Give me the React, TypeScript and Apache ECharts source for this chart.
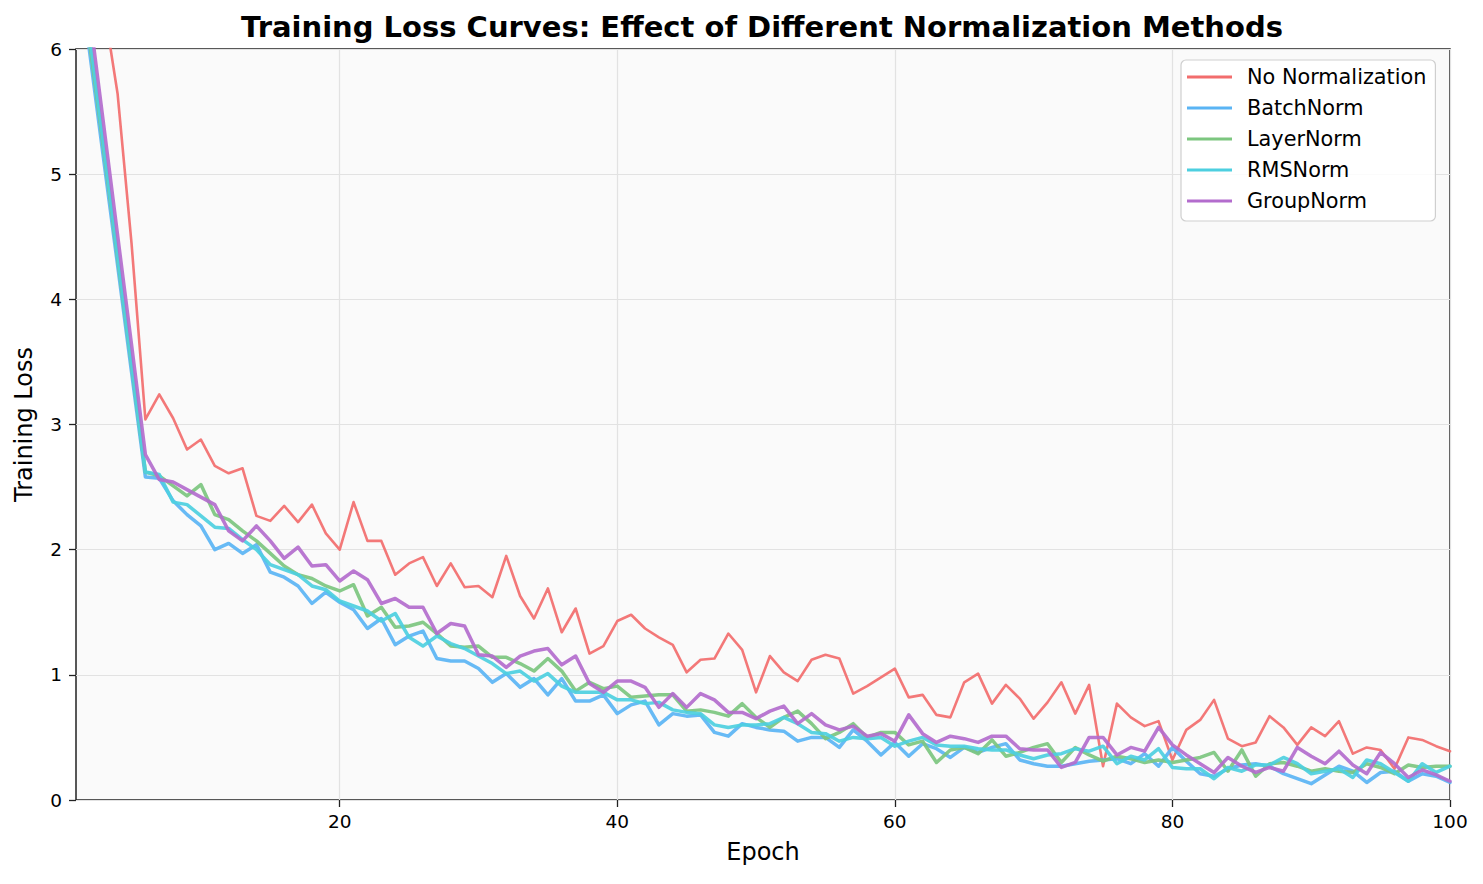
import React, { useEffect, useRef } from "react";
import * as echarts from "echarts";

const epochs: string[] = Array.from({ length: 100 }, (_, i) => String(i + 1));
const xTickLabels = ["20", "40", "60", "80", "100"];
const yTicks = { min: 0, max: 6, step: 1 };

const seriesNames = ["No Normalization", "BatchNorm", "LayerNorm", "RMSNorm", "GroupNorm"];
const seriesColors = ["#F26D6D", "#5AB4F4", "#7CC67F", "#4DCFE0", "#B36CCD"];
const seriesWidths = [2.6, 3.5, 3.5, 3.5, 3.5];

const noNorm = [
  7.6, 6.95, 6.35, 5.64, 4.45, 3.04, 3.24, 3.05, 2.8, 2.88, 2.67, 2.61, 2.65, 2.27, 2.23, 2.35, 2.22, 2.36, 2.13, 2.0,
  2.38, 2.07, 2.07, 1.8, 1.89, 1.94, 1.71, 1.89, 1.7, 1.71, 1.62, 1.95, 1.63, 1.45, 1.69, 1.34, 1.53, 1.17, 1.23, 1.43,
  1.48, 1.37, 1.3, 1.24, 1.02, 1.12, 1.13, 1.33, 1.2, 0.86, 1.15, 1.02, 0.95, 1.12, 1.16, 1.13, 0.85, 0.91, 0.98, 1.05,
  0.82, 0.84, 0.68, 0.66, 0.94, 1.01, 0.77, 0.92, 0.81, 0.65, 0.78, 0.94, 0.69, 0.92, 0.27, 0.77, 0.66, 0.59, 0.63, 0.32,
  0.56, 0.64, 0.8, 0.49, 0.43, 0.46, 0.67, 0.58, 0.44, 0.58, 0.51, 0.63, 0.37, 0.42, 0.4, 0.25, 0.5, 0.48, 0.43, 0.39,
];
const batchNorm = [
  6.8, 5.96, 5.11, 4.27, 3.42, 2.58, 2.57, 2.39, 2.28, 2.19, 2.0, 2.05, 1.97, 2.04, 1.82, 1.78, 1.71, 1.57, 1.66, 1.58,
  1.52, 1.37, 1.45, 1.24, 1.31, 1.35, 1.13, 1.11, 1.11, 1.05, 0.94, 1.01, 0.9, 0.97, 0.84, 0.97, 0.79, 0.79, 0.84, 0.69,
  0.76, 0.79, 0.6, 0.69, 0.67, 0.68, 0.54, 0.51, 0.61, 0.58, 0.56, 0.55, 0.47, 0.5, 0.5, 0.42, 0.56, 0.47, 0.36, 0.46,
  0.35, 0.45, 0.41, 0.34, 0.42, 0.38, 0.42, 0.45, 0.32, 0.29, 0.27, 0.27, 0.29, 0.31, 0.32, 0.33, 0.29, 0.37, 0.27, 0.42,
  0.31, 0.21, 0.19, 0.25, 0.28, 0.29, 0.27, 0.21, 0.17, 0.13, 0.2, 0.27, 0.23, 0.14, 0.22, 0.23, 0.15, 0.21, 0.19, 0.14,
];
const layerNorm = [
  6.9, 6.04, 5.19, 4.33, 3.48, 2.62, 2.59, 2.51, 2.43, 2.52, 2.28, 2.24, 2.15, 2.07, 1.97, 1.87, 1.8, 1.77, 1.71, 1.67,
  1.72, 1.47, 1.54, 1.38, 1.39, 1.42, 1.33, 1.23, 1.22, 1.23, 1.14, 1.14, 1.09, 1.03, 1.13, 1.03, 0.87, 0.94, 0.89, 0.91,
  0.82, 0.83, 0.84, 0.84, 0.71, 0.72, 0.7, 0.67, 0.77, 0.66, 0.58, 0.66, 0.71, 0.61, 0.49, 0.54, 0.61, 0.5, 0.54, 0.54,
  0.44, 0.47, 0.3, 0.4, 0.42, 0.37, 0.48, 0.35, 0.38, 0.42, 0.45, 0.3, 0.42, 0.36, 0.31, 0.35, 0.33, 0.3, 0.32, 0.3,
  0.32, 0.34, 0.38, 0.23, 0.4, 0.19, 0.29, 0.3, 0.27, 0.23, 0.25, 0.23, 0.22, 0.29, 0.26, 0.21, 0.28, 0.26, 0.27, 0.27,
];
const rmsNorm = [
  6.95, 6.09, 5.22, 4.35, 3.49, 2.62, 2.6, 2.38, 2.36, 2.27, 2.18, 2.17, 2.08, 2.0, 1.88, 1.84, 1.8, 1.71, 1.68, 1.59,
  1.55, 1.51, 1.43, 1.49, 1.3, 1.23, 1.31, 1.25, 1.21, 1.15, 1.09, 1.01, 1.03, 0.95, 1.01, 0.91, 0.86, 0.86, 0.86, 0.8,
  0.8, 0.77, 0.78, 0.72, 0.7, 0.69, 0.6, 0.58, 0.6, 0.6, 0.61, 0.66, 0.61, 0.54, 0.53, 0.47, 0.5, 0.49, 0.5, 0.43,
  0.47, 0.5, 0.44, 0.43, 0.43, 0.41, 0.4, 0.4, 0.36, 0.33, 0.36, 0.37, 0.41, 0.39, 0.43, 0.29, 0.35, 0.32, 0.41, 0.26,
  0.25, 0.25, 0.17, 0.26, 0.23, 0.28, 0.28, 0.34, 0.29, 0.21, 0.23, 0.25, 0.18, 0.32, 0.29, 0.22, 0.15, 0.29, 0.22, 0.27,
];
const groupNorm = [
  7.1, 6.26, 5.39, 4.51, 3.64, 2.76, 2.56, 2.54, 2.48, 2.42, 2.36, 2.15, 2.07, 2.19, 2.07, 1.93, 2.02, 1.87, 1.88, 1.75,
  1.83, 1.76, 1.57, 1.61, 1.54, 1.54, 1.33, 1.41, 1.39, 1.16, 1.15, 1.06, 1.15, 1.19, 1.21, 1.08, 1.15, 0.93, 0.86, 0.95,
  0.95, 0.9, 0.74, 0.85, 0.74, 0.85, 0.8, 0.7, 0.7, 0.65, 0.71, 0.75, 0.61, 0.69, 0.6, 0.56, 0.59, 0.51, 0.53, 0.47,
  0.68, 0.53, 0.46, 0.51, 0.49, 0.46, 0.51, 0.51, 0.41, 0.4, 0.4, 0.26, 0.3, 0.5, 0.5, 0.36, 0.42, 0.39, 0.58, 0.44,
  0.36, 0.29, 0.22, 0.34, 0.27, 0.22, 0.26, 0.23, 0.42, 0.35, 0.29, 0.39, 0.28, 0.21, 0.38, 0.29, 0.18, 0.24, 0.2, 0.15,
];
const seriesData = [noNorm, batchNorm, layerNorm, rmsNorm, groupNorm];

const FONT = "DejaVu Sans";

export default function App() {
  const ref = useRef<HTMLDivElement>(null);
  useEffect(() => {
    document.body.style.margin = "0";
    if (!ref.current) return;
    const chart = echarts.init(ref.current, undefined, { renderer: "svg" });
    const showTick = (_i: number, v: string) => xTickLabels.includes(String(v));
    chart.setOption({
      animation: false,
      backgroundColor: "#ffffff",
      graphic: [
        {
          type: "text",
          x: 762,
          y: 27,
          style: {
            text: "Training Loss Curves: Effect of Different Normalization Methods",
            font: `bold 29px "${FONT}"`,
            fill: "#000",
            textAlign: "center",
            textVerticalAlign: "middle",
          },
        },
      ],
      grid: {
        left: 76,
        right: 33,
        top: 49,
        bottom: 84,
        show: true,
        backgroundColor: "#fafafa",
        borderColor: "#222222",
        borderWidth: 1.5,
        containLabel: false,
      },
      legend: {
        orient: "vertical",
        left: 1181,
        top: 60,
        padding: [6, 9, 9, 6],
        itemWidth: 45,
        itemHeight: 3,
        itemGap: 9,
        icon: "rect",
        backgroundColor: "rgba(255,255,255,0.85)",
        borderColor: "#cfcfcf",
        borderWidth: 1.2,
        borderRadius: 5,
        textStyle: { fontFamily: FONT, fontSize: 20.8, color: "#000", lineHeight: 22, padding: [0, 0, 0, 10] },
        data: seriesNames,
      },
      xAxis: {
        type: "category",
        data: epochs,
        boundaryGap: false,
        name: "Epoch",
        nameLocation: "middle",
        nameGap: 40,
        nameTextStyle: { fontFamily: FONT, fontSize: 24, color: "#000" },
        axisLine: { show: false },
        axisTick: { show: true, interval: showTick, length: 7, lineStyle: { color: "#222", width: 1.3 } },
        axisLabel: { interval: showTick, margin: 12, fontFamily: FONT, fontSize: 18.5, color: "#000" },
        splitLine: { show: true, interval: showTick, lineStyle: { color: "#e2e2e2", width: 1.2 } },
      },
      yAxis: {
        type: "value",
        min: yTicks.min,
        max: yTicks.max,
        interval: yTicks.step,
        name: "Training Loss",
        nameLocation: "middle",
        nameGap: 40,
        nameTextStyle: { fontFamily: FONT, fontSize: 24, color: "#000" },
        axisLine: { show: false },
        axisTick: { show: true, length: 7, lineStyle: { color: "#222", width: 1.3 } },
        axisLabel: { margin: 14, fontFamily: FONT, fontSize: 18.5, color: "#000" },
        splitLine: { show: true, lineStyle: { color: "#e2e2e2", width: 1.2 } },
      },
      series: seriesNames.map((name, i) => ({
        name,
        type: "line",
        data: seriesData[i],
        showSymbol: false,
        symbol: "none",
        clip: true,
        color: seriesColors[i],
        lineStyle: { color: seriesColors[i], width: seriesWidths[i], opacity: 0.92, join: "round", cap: "round" },
        itemStyle: { color: seriesColors[i] },
      })),
    });
    return () => chart.dispose();
  }, []);
  return <div ref={ref} style={{ width: 1483, height: 884, position: "absolute", left: 0, top: 0 }} />;
}
